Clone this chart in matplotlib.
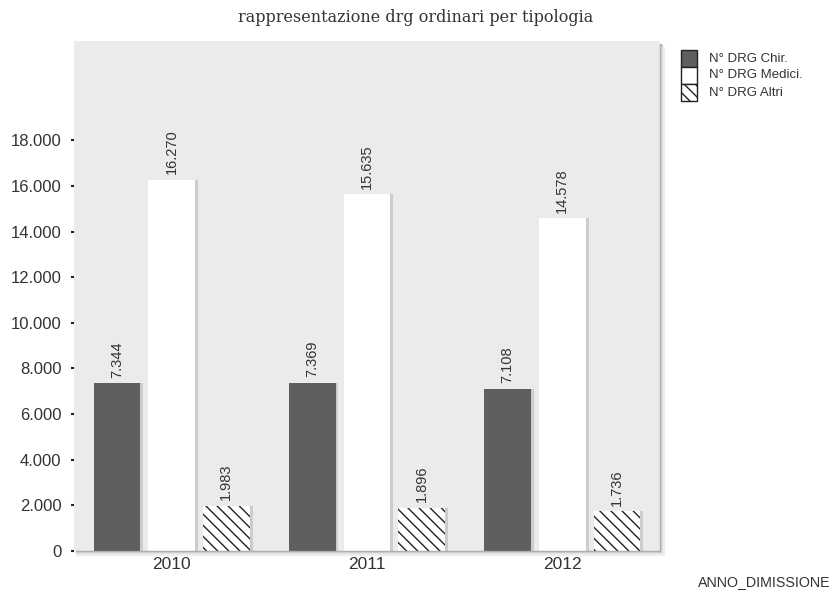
import matplotlib
matplotlib.use("Agg")
import matplotlib.pyplot as plt
from matplotlib.patches import Rectangle
import numpy as np

# DRG ordinari per anno di dimissione
anni = ["2010", "2011", "2012"]
drg_chir = [7344, 7369, 7108]
drg_medici = [16270, 15635, 14578]
drg_altri = [1983, 1896, 1736]
serie_labels = ["N° DRG Chir.", "N° DRG Medici.", "N° DRG Altri"]
y_ticks = [0, 2000, 4000, 6000, 8000, 10000, 12000, 14000, 16000, 18000]


def fmt_it(v):
    return f"{v:,}".replace(",", ".")


plt.rcParams["font.family"] = ["Liberation Sans", "DejaVu Sans"]
plt.rcParams["hatch.linewidth"] = 1.0

fig = plt.figure(figsize=(8.32, 5.97), dpi=100)
ax = fig.add_axes([0.0889, 0.0771, 0.7044, 0.8542])
ax.set_facecolor("#ebebeb")

x = np.arange(len(anni))
width = 0.24
offset = 0.28
text_col = "#333333"

series = [
    (drg_chir, -offset, dict(color="#5f5f5f")),
    (drg_medici, 0.0, dict(color="white")),
    (drg_altri, offset, dict(color="white", hatch="\\\\\\", edgecolor="#222222", linewidth=0)),
]

for vals, off, style in series:
    # soft shadow on the right of each bar
    ax.bar(x + off + 0.014, vals, width, color="#cccccc", zorder=1)
    ax.bar(x + off, vals, width, zorder=2, **style)
    for xi, v in zip(x + off, vals):
        ax.text(xi, v + 250, fmt_it(v), rotation=90, ha="center", va="bottom",
                fontsize=10.5, color=text_col)

ax.set_xlim(-0.5, 2.5)
ax.set_ylim(0, 22350)
ax.set_xticks(x)
ax.set_xticklabels(anni)
ax.set_yticks(y_ticks)
ax.set_yticklabels([fmt_it(t) for t in y_ticks])
ax.tick_params(axis="y", length=2, width=1.5, color="#222222", labelsize=12,
               labelcolor=text_col, pad=7)
ax.tick_params(axis="x", length=0, labelsize=12.5, labelcolor=text_col, pad=4)
for s in ax.spines.values():
    s.set_visible(False)

# frame shadow on the right and bottom edges
for i, c in enumerate(["#a8a8a8", "#c8c8c8", "#dedede", "#eeeeee"]):
    fig.add_artist(Rectangle((0.7933 + i / 832, 0.0771 - (i + 1) / 597), 1 / 832,
                             0.8542 - 2 / 597, color=c, transform=fig.transFigure))
    fig.add_artist(Rectangle((0.0889 + 2 / 832, 0.0771 - (i + 1) / 597), 0.7044, 1 / 597,
                             color=c, transform=fig.transFigure))

fig.text(0.5, 0.971, "rappresentazione drg ordinari per tipologia", ha="center", va="center",
         fontsize=11.5, family="DejaVu Serif", color=text_col)
fig.text(0.998, 0.025, "ANNO_DIMISSIONE", ha="right", va="center", fontsize=10.3,
         color=text_col)

# legend
leg_styles = [dict(facecolor="#5f5f5f"), dict(facecolor="white"),
              dict(facecolor="white", hatch="\\\\\\")]
for i, (lab, st) in enumerate(zip(serie_labels, leg_styles)):
    y0 = 1 - (50 + 17 * (i + 1)) / 597
    fig.add_artist(Rectangle((681 / 832, y0), 16 / 832, 17 / 597, edgecolor="#222222",
                             linewidth=1, transform=fig.transFigure, **st))
    fig.text(709 / 832, y0 + 8.5 / 597, lab, ha="left", va="center", fontsize=9.5,
             color=text_col)

fig.savefig("out.png", dpi=100)
